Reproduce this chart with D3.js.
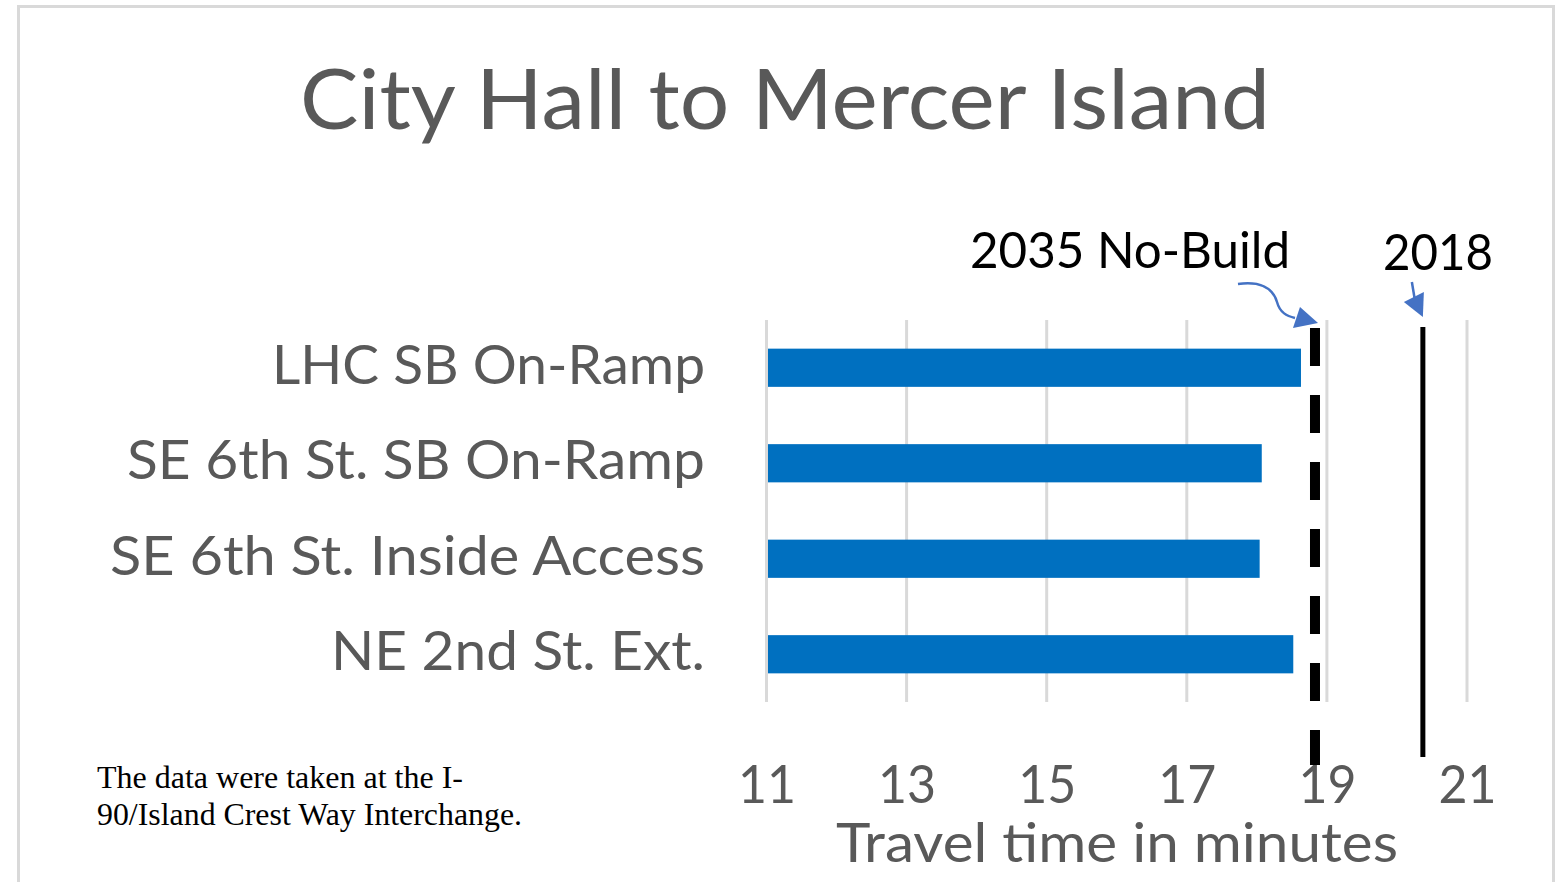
<!DOCTYPE html>
<html>
<head>
<meta charset="utf-8">
<script src="https://cdn.jsdelivr.net/npm/d3@7"></script>
<style>
  html, body { margin: 0; padding: 0; background: #ffffff; }
  svg { display: block; }
</style>
</head>
<body>
<svg id="chart" width="1557" height="882"></svg>
<script>
// Travel times (minutes) from City Hall to Mercer Island by access option
const categories = ["LHC SB On-Ramp", "SE 6th St. SB On-Ramp", "SE 6th St. Inside Access", "NE 2nd St. Ext."];
const travelTimes = [18.63, 18.07, 18.04, 18.52];
const tickValues = [11, 13, 15, 17, 19, 21];
// Reference travel times drawn as vertical lines
const referenceLabels = ["2035 No-Build", "2018"];
const referenceTimes = [18.83, 20.37];

const svg = d3.select("#chart");
const FONT = "Lato, 'Open Sans', sans-serif";
const GREY = "#595959";

// Outer frame
svg.append("rect")
  .attr("x", 18.5).attr("y", 6.5)
  .attr("width", 1535).attr("height", 900)
  .attr("fill", "#ffffff")
  .attr("stroke", "#d9d9d9").attr("stroke-width", 3);

// Title
svg.append("text")
  .attr("x", 300).attr("y", 129)
  .attr("font-family", FONT).attr("font-size", 84)
  .attr("fill", GREY)
  .attr("textLength", 970).attr("lengthAdjust", "spacingAndGlyphs")
  .text("City Hall to Mercer Island");

// Scales
const x = d3.scaleLinear().domain([11, 21]).range([766.5, 1467]);
const y = d3.scaleBand().domain(categories).range([320, 702])
  .paddingInner(0.6).paddingOuter(0.3);

// Vertical gridlines
svg.append("g").selectAll("line")
  .data(tickValues)
  .join("line")
  .attr("x1", d => x(d)).attr("x2", d => x(d))
  .attr("y1", 320).attr("y2", 702)
  .attr("stroke", "#d9d9d9").attr("stroke-width", 3);

// Bars
svg.append("g").selectAll("rect")
  .data(categories)
  .join("rect")
  .attr("x", x(11) + 1.5)
  .attr("y", d => y(d))
  .attr("width", (d, i) => x(travelTimes[i]) - x(11) - 1.5)
  .attr("height", y.bandwidth())
  .attr("fill", "#0070C0");

// Category labels
const labelWidths = [433, 578, 595, 374];
const yAxis = svg.append("g")
  .attr("transform", "translate(705,0)")
  .call(d3.axisLeft(y).tickSize(0).tickPadding(0));
yAxis.select(".domain").remove();
yAxis.selectAll("text")
  .attr("font-family", FONT).attr("font-size", 54)
  .attr("fill", GREY)
  .attr("dy", "0.3em")
  .attr("textLength", (d, i) => labelWidths[i])
  .attr("lengthAdjust", "spacingAndGlyphs");

// X axis tick labels
const xAxis = svg.append("g")
  .attr("transform", "translate(0,803)")
  .call(d3.axisBottom(x).tickValues(tickValues).tickSize(0).tickPadding(0).tickFormat(d3.format("d")));
xAxis.select(".domain").remove();
xAxis.selectAll("text")
  .attr("font-family", FONT).attr("font-size", 53)
  .attr("fill", GREY)
  .attr("dy", 0)
  .attr("textLength", 58).attr("lengthAdjust", "spacingAndGlyphs");

// Axis title
svg.append("text")
  .attr("x", 836).attr("y", 862)
  .attr("font-family", FONT).attr("font-size", 54)
  .attr("fill", GREY)
  .attr("textLength", 562).attr("lengthAdjust", "spacingAndGlyphs")
  .text("Travel time in minutes");

// Reference lines: 2035 No-Build (dashed) and 2018 (solid)
svg.append("line")
  .attr("x1", x(referenceTimes[0])).attr("x2", x(referenceTimes[0]))
  .attr("y1", 328).attr("y2", 765)
  .attr("stroke", "#000").attr("stroke-width", 10)
  .attr("stroke-dasharray", "38,29");
svg.append("line")
  .attr("x1", x(referenceTimes[1])).attr("x2", x(referenceTimes[1]))
  .attr("y1", 327).attr("y2", 757)
  .attr("stroke", "#000").attr("stroke-width", 5);

// Reference labels
svg.append("text")
  .attr("x", 970).attr("y", 268)
  .attr("font-family", FONT).attr("font-size", 51)
  .attr("fill", "#000")
  .attr("textLength", 320).attr("lengthAdjust", "spacingAndGlyphs")
  .text(referenceLabels[0]);
svg.append("text")
  .attr("x", 1383).attr("y", 270)
  .attr("font-family", FONT).attr("font-size", 51)
  .attr("fill", "#000")
  .attr("textLength", 110).attr("lengthAdjust", "spacingAndGlyphs")
  .text(referenceLabels[1]);

// Callout arrows pointing to the reference lines
const BLUE = "#4472C4";
const xa = x(referenceTimes[0]), xb = x(referenceTimes[1]);
svg.append("path")
  .attr("d", `M${xa - 77},284 C${xa - 55},281 ${xa - 42},288 ${xa - 38},302 C${xa - 35},313 ${xa - 28},316 ${xa - 20},318`)
  .attr("fill", "none").attr("stroke", BLUE).attr("stroke-width", 2.5);
svg.append("path")
  .attr("d", `M${xa + 3},323 L${xa - 15},307 L${xa - 22},328 Z`)
  .attr("fill", BLUE);
svg.append("path")
  .attr("d", `M${xb - 11},282 L${xb - 8},300`)
  .attr("fill", "none").attr("stroke", BLUE).attr("stroke-width", 2.5);
svg.append("path")
  .attr("d", `M${xb},317 L${xb - 19},302 L${xb + 1},292 Z`)
  .attr("fill", BLUE);

// Footnote
const note = svg.append("text")
  .attr("font-family", "'Liberation Serif', 'Times New Roman', serif")
  .attr("font-size", 31).attr("fill", "#000");
note.append("tspan").attr("x", 97).attr("y", 788)
  .attr("textLength", 366).attr("lengthAdjust", "spacingAndGlyphs")
  .text("The data were taken at the I-");
note.append("tspan").attr("x", 97).attr("y", 825)
  .attr("textLength", 425).attr("lengthAdjust", "spacingAndGlyphs")
  .text("90/Island Crest Way Interchange.");
</script>
</body>
</html>
